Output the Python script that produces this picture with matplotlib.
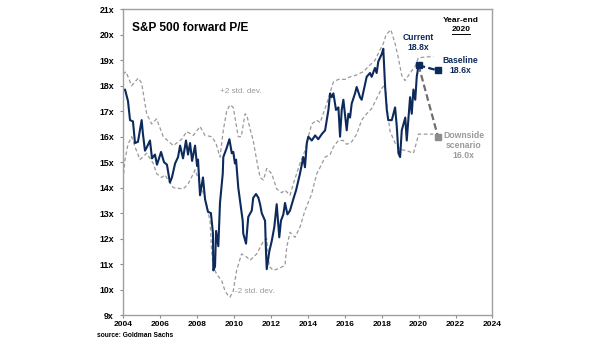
import matplotlib
matplotlib.use("Agg")
import matplotlib.pyplot as plt

plt.rcParams['font.family'] = ['Liberation Sans', 'DejaVu Sans']

# S&P 500 forward P/E (monthly-ish readings)
pe_years = [2004.00, 2004.11, 2004.27, 2004.38, 2004.54, 2004.65, 2004.81, 2005.01, 2005.08, 2005.19,
            2005.30, 2005.46, 2005.57, 2005.73, 2005.84, 2006.06, 2006.22, 2006.38, 2006.54, 2006.65,
            2006.82, 2006.98, 2007.09, 2007.25, 2007.41, 2007.52, 2007.63, 2007.74, 2007.90, 2008.01,
            2008.06, 2008.17, 2008.33, 2008.44, 2008.60, 2008.76, 2008.87, 2008.89, 2008.98, 2009.04,
            2009.16, 2009.25, 2009.40, 2009.43, 2009.61, 2009.76, 2009.89, 2009.97, 2010.06, 2010.12,
            2010.24, 2010.48, 2010.51, 2010.66, 2010.78, 2010.97, 2011.05, 2011.20, 2011.33, 2011.42,
            2011.51, 2011.69, 2011.74, 2011.78, 2011.92, 2012.05, 2012.19, 2012.32, 2012.46, 2012.55,
            2012.68, 2012.77, 2012.90, 2013.04, 2013.22, 2013.37, 2013.58, 2013.76, 2013.85, 2013.95,
            2014.03, 2014.22, 2014.40, 2014.57, 2014.76, 2014.94, 2015.03, 2015.12, 2015.21, 2015.30,
            2015.39, 2015.53, 2015.66, 2015.75, 2015.84, 2015.93, 2016.11, 2016.20, 2016.29, 2016.38,
            2016.56, 2016.65, 2016.83, 2016.92, 2017.01, 2017.19, 2017.37, 2017.46, 2017.64, 2017.73,
            2017.82, 2018.01, 2018.09, 2018.19, 2018.28, 2018.36, 2018.55, 2018.73, 2018.82, 2018.91,
            2019.00, 2019.09, 2019.28, 2019.36, 2019.54, 2019.63, 2019.72, 2019.82, 2019.90, 2020.00]
pe_values = [17.80, 17.85, 17.40, 16.65, 16.60, 15.75, 15.80, 16.65, 16.10, 15.45,
             15.60, 15.85, 15.15, 15.30, 14.90, 15.40, 15.00, 14.90, 14.20, 14.40,
             14.95, 15.20, 15.65, 15.15, 15.85, 15.30, 15.75, 15.05, 15.65, 14.85,
             15.10, 13.70, 14.40, 13.55, 13.05, 13.00, 12.20, 10.75, 10.90, 12.30,
             11.70, 13.40, 14.55, 15.20, 15.55, 15.90, 15.35, 15.40, 14.95, 15.10,
             14.00, 12.70, 12.20, 11.80, 12.85, 13.10, 13.60, 13.75, 13.60, 13.35,
             13.00, 12.70, 11.50, 10.80, 11.50, 11.90, 12.45, 13.35, 12.05, 12.70,
             12.95, 13.40, 12.95, 13.10, 13.55, 13.90, 14.55, 15.20, 14.80, 15.75,
             16.00, 15.85, 16.05, 15.90, 16.10, 16.25, 16.65, 17.05, 17.70, 17.55,
             17.70, 17.05, 17.15, 16.00, 17.05, 17.45, 16.25, 16.90, 16.75, 17.30,
             17.70, 17.95, 17.55, 17.45, 17.75, 18.35, 18.50, 18.35, 18.70, 18.50,
             18.95, 19.25, 19.45, 17.95, 17.05, 16.65, 16.65, 17.15, 16.40, 15.35,
             15.20, 16.25, 16.75, 15.85, 17.55, 16.90, 17.85, 17.45, 18.35, 18.80]

# +2 standard deviation band
upper_years = [2004.00, 2004.16, 2004.47, 2004.83, 2005.01, 2005.28, 2005.55, 2005.82, 2006.18, 2006.72,
               2007.18, 2007.45, 2007.81, 2008.17, 2008.44, 2008.80, 2009.03, 2009.25, 2009.43, 2009.61,
               2009.79, 2009.97, 2010.12, 2010.24, 2010.40, 2010.61, 2010.70, 2010.88, 2011.05, 2011.23,
               2011.42, 2011.60, 2011.78, 2012.05, 2012.32, 2012.59, 2012.77, 2013.04, 2013.22, 2013.58,
               2013.85, 2014.03, 2014.22, 2014.49, 2014.67, 2015.03, 2015.39, 2015.66, 2016.02, 2016.29,
               2016.56, 2017.01, 2017.28, 2017.64, 2017.91, 2018.09, 2018.24, 2018.50, 2018.73, 2018.91,
               2019.09, 2019.27, 2019.54, 2019.81, 2019.99, 2020.80]
upper_values = [18.45, 18.55, 18.00, 18.30, 18.10, 16.90, 16.50, 16.70, 16.00, 15.65,
                15.90, 16.20, 16.05, 16.40, 16.05, 16.00, 15.75, 15.20, 16.25, 17.00,
                17.25, 17.15, 16.50, 16.00, 16.00, 16.90, 16.85, 16.30, 15.85, 15.10,
                14.40, 14.30, 14.75, 14.55, 13.95, 13.80, 13.90, 13.70, 14.15, 14.95,
                15.45, 16.00, 16.50, 16.65, 16.55, 17.30, 18.15, 18.25, 18.25, 18.35,
                18.40, 18.55, 18.75, 19.00, 19.40, 19.65, 20.00, 20.20, 19.65, 19.07,
                18.40, 18.20, 18.50, 18.75, 19.10, 19.15]

# -2 standard deviation band
lower_years = [2004.00, 2004.11, 2004.27, 2004.47, 2004.65, 2004.92, 2005.28, 2005.64, 2005.82, 2006.09,
               2006.27, 2006.72, 2007.26, 2007.53, 2007.81, 2007.90, 2008.17, 2008.44, 2008.71, 2008.80,
               2008.89, 2009.07, 2009.34, 2009.52, 2009.70, 2009.79, 2009.97, 2010.15, 2010.42, 2010.66,
               2010.88, 2011.24, 2011.60, 2011.78, 2011.92, 2012.14, 2012.50, 2012.77, 2012.86, 2013.04,
               2013.31, 2013.58, 2013.85, 2014.21, 2014.49, 2014.67, 2014.94, 2015.21, 2015.39, 2015.66,
               2015.93, 2016.11, 2016.38, 2016.65, 2016.92, 2017.19, 2017.46, 2017.73, 2018.01, 2018.19,
               2018.31, 2018.46, 2018.73, 2019.00, 2019.36, 2019.72, 2019.90, 2019.99, 2020.80]
lower_values = [14.30, 15.10, 15.70, 16.00, 15.60, 15.10, 15.35, 14.95, 14.55, 14.40,
                14.50, 14.00, 13.95, 14.15, 14.55, 14.70, 14.15, 13.60, 12.70, 11.50,
                10.90, 10.60, 10.35, 9.95, 9.75, 9.70, 9.95, 10.75, 11.40, 11.30,
                11.15, 11.40, 11.90, 12.00, 10.90, 10.75, 10.85, 10.95, 11.65, 12.25,
                12.05, 12.45, 13.10, 13.75, 14.55, 14.80, 15.20, 15.30, 15.60, 15.85,
                15.85, 15.70, 15.80, 16.10, 16.65, 16.90, 17.10, 17.50, 17.90, 18.05,
                17.00, 16.20, 15.75, 15.50, 15.45, 15.35, 15.80, 16.10, 16.10]

# year-end 2020 scenarios
current_year, current_pe = 2020.00, 18.8
target_year = 2021.05
baseline_pe = 18.6
downside_pe = 16.0

x_ticks = list(range(2004, 2025, 2))
y_ticks = list(range(9, 22))

navy = '#0c2a5b'
grey = '#9a9a9a'

fig = plt.figure(figsize=(6.05, 3.41), dpi=100)
ax = fig.add_axes([0.2033, 0.0762, 0.6107, 0.8965])

ax.plot(upper_years, upper_values, color=grey, lw=0.9, ls=(0, (3, 2)))
ax.plot(lower_years, lower_values, color=grey, lw=0.9, ls=(0, (3, 2)))
ax.plot(pe_years, pe_values, color=navy, lw=1.5)

ax.plot([current_year, target_year], [current_pe, downside_pe], color='#6e6e6e', lw=1.6, ls=(0, (3, 1.5)))
ax.plot([current_year, target_year], [current_pe, baseline_pe], color=navy, lw=1.6, ls=(0, (3, 1.5)))
ax.plot([current_year], [current_pe], marker='s', ms=4.5, color=navy)
ax.plot([target_year], [baseline_pe], marker='s', ms=4.5, color=navy)
ax.plot([target_year], [downside_pe], marker='s', ms=4.5, color='#8c8c8c')

ax.set_xlim(2004, 2024)
ax.set_ylim(9, 21)
ax.set_xticks(x_ticks)
ax.set_yticks(y_ticks)
ax.set_xticklabels([str(y) for y in x_ticks], fontsize=6, fontweight='bold')
ax.set_yticklabels([f'{v}x' for v in y_ticks], fontsize=6.3, fontweight='bold')
ax.tick_params(axis='x', length=2.5, width=0.8, color='#8a8a8a', pad=2)
ax.tick_params(axis='y', length=2.5, width=0.8, color='#8a8a8a', pad=4)
for s in ax.spines.values():
    s.set_color('#a0a0a0')
    s.set_linewidth(1.0)

ax.text(2004.5, 20.25, 'S&P 500 forward P/E', fontsize=8.6, fontweight='bold', va='center')
ax.text(2022.3, 20.58, 'Year-end', fontsize=6, fontweight='bold', ha='center', va='center')
ax.text(2022.3, 20.19, '2020', fontsize=6, fontweight='bold', ha='center', va='center')
ax.plot([2021.8, 2022.8], [20.04, 20.04], color='black', lw=0.7)
ax.text(2020.0, 19.68, 'Current\n18.8x', fontsize=6.2, fontweight='bold', color=navy,
        ha='center', va='center', linespacing=1.15)
ax.text(2022.27, 18.78, 'Baseline\n18.6x', fontsize=6.2, fontweight='bold', color=navy,
        ha='center', va='center', linespacing=1.15)
ax.text(2022.45, 15.66, 'Downside\nscenario\n16.0x', fontsize=6.2, fontweight='bold', color='#9a9a9a',
        ha='center', va='center', linespacing=1.15)
ax.text(2009.25, 17.76, '+2 std. dev.', fontsize=5.9, color='#9a9a9a', va='center')
ax.text(2010.06, 9.92, '-2 std. dev.', fontsize=5.9, color='#9a9a9a', va='center')

fig.text(97 / 605, 1 - 335.5 / 341, 'source: Goldman Sachs', fontsize=4.8, fontweight='bold', va='center')

fig.savefig('out.png', dpi=100)
